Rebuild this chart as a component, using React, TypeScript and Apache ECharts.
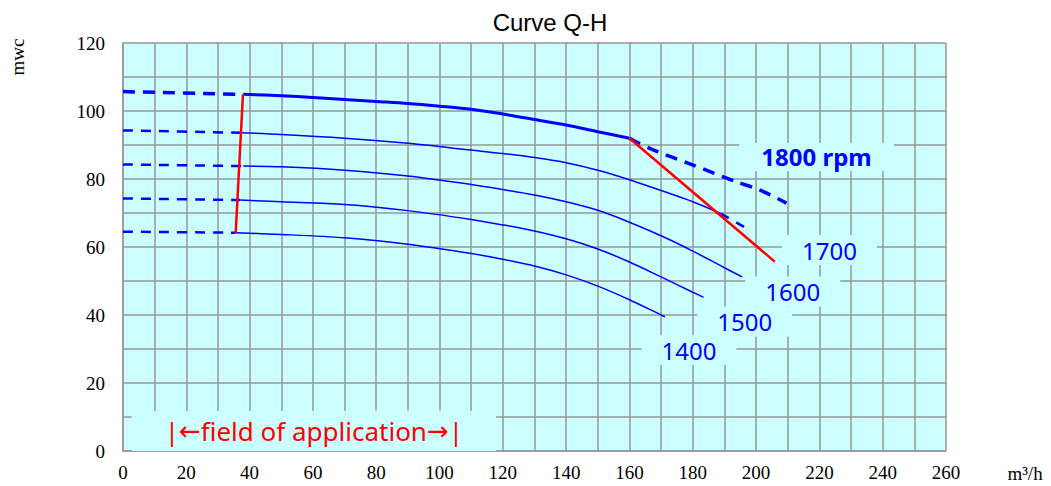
import React, { useEffect, useRef } from 'react';
import * as echarts from 'echarts';

// ---- data (Q in m³/h, H in mwc) ----
const q1800 = [38, 50, 60, 70, 80, 90, 100, 110, 120, 130, 140, 150, 160];
const h1800 = [104.9, 104.5, 104.0, 103.4, 102.8, 102.2, 101.4, 100.5, 99.1, 97.5, 95.9, 93.9, 92.0];
const q1800Ext = [160, 166.4, 180.1, 193.7, 201.1, 209.6];
const h1800Ext = [92.0, 89.0, 84.1, 79.2, 76.8, 72.9];
const q1800Low = [0, 38];
const h1800Low = [105.7, 104.9];

const q1700 = [37, 50, 70, 90, 110, 120, 130, 140, 150, 160, 170, 180, 188.7];
const h1700 = [93.6, 93.1, 92.0, 90.5, 88.5, 87.5, 86.3, 84.8, 82.6, 79.8, 76.6, 73.3, 69.9];
const q1700Ext = [188.7, 196.2];
const h1700Ext = [69.9, 65.9];
const q1700Low = [0, 37];
const h1700Low = [94.3, 93.6];

const q1600 = [38, 50, 70, 90, 110, 120, 130, 140, 150, 160, 170, 180, 190, 195.6];
const h1600 = [83.8, 83.6, 82.6, 80.9, 78.4, 76.9, 75.3, 73.3, 70.8, 67.3, 63.3, 58.8, 53.9, 51.2];
const q1600Low = [0, 38];
const h1600Low = [84.3, 83.8];

const q1500 = [37, 50, 70, 90, 110, 120, 130, 140, 150, 160, 170, 180, 183.4];
const h1500 = [73.8, 73.3, 72.5, 70.7, 68.1, 66.5, 64.7, 62.4, 59.4, 55.6, 51.2, 46.7, 45.2];
const q1500Low = [0, 37];
const h1500Low = [74.3, 73.8];

const q1400 = [35.6, 50, 70, 90, 110, 120, 130, 140, 150, 160, 170, 171.2];
const h1400 = [64.2, 63.7, 62.7, 60.8, 58.1, 56.4, 54.4, 51.8, 48.5, 44.5, 40.0, 39.5];
const q1400Low = [0, 35.6];
const h1400Low = [64.5, 64.2];

const qLimitLeft = [37.9, 35.6];
const hLimitLeft = [104.9, 64.2];
const qLimitRight = [160, 205.9];
const hLimitRight = [92.0, 55.7];

const rpmLabels = ['1700', '1600', '1500', '1400'];
const rpmLabelQ = [223.2, 211.6, 196.4, 178.8];
const rpmLabelH = [59.1, 46.9, 38.0, 29.7];
const mainLabel = '1800 rpm';
const mainLabelQ = 219.1;
const mainLabelH = 86.5;
const fieldLabel = '|{a|\u2190}field of application{a|\u2192}|';
const fieldLabelQ = 60.3;
const fieldLabelH = 5.9;

const titleText = 'Curve Q-H';
const yName = 'mwc';
const xName = 'm\u00b3/h';

const zip = (q: number[], h: number[]) => q.map((v, i) => [v, h[i]]);

const BLUE = '#0000ff';
const RED = '#ff0000';
const GRID = '#979797';

export default function App() {
  const ref = useRef<HTMLDivElement>(null);
  useEffect(() => {
    if (!ref.current) return;
    const chart = echarts.init(ref.current, undefined, { renderer: 'svg' });
    const solid = (name: string, q: number[], h: number[], width: number) => ({
      name, type: 'line', data: zip(q, h), smooth: 0.3, showSymbol: false, silent: true,
      lineStyle: { color: BLUE, width },
    });
    const dashed = (name: string, q: number[], h: number[], width: number, dash: number[]) => ({
      name, type: 'line', data: zip(q, h), smooth: 0.3, showSymbol: false, silent: true,
      lineStyle: { color: BLUE, width, type: dash },
    });
    const red = (name: string, q: number[], h: number[]) => ({
      name, type: 'line', data: zip(q, h), showSymbol: false, silent: true, z: 4,
      lineStyle: { color: RED, width: 2.5 },
    });
    const axisLabel = {
      color: '#000', fontFamily: 'Liberation Serif', fontSize: 19,
      formatter: (v: number) => (v % 20 === 0 ? String(v) : ''),
    };
    const labelBase = {
      show: true, position: 'inside', opacity: 1, textBorderWidth: 0, textBorderColor: 'transparent', backgroundColor: '#ccffff',
    };
    chart.setOption({
      animation: false,
      backgroundColor: '#ffffff',
      grid: { left: 123, right: 105, top: 43, bottom: 35, show: true, backgroundColor: '#ccffff', borderWidth: 0 },
      xAxis: {
        type: 'value', min: 0, max: 260, interval: 10,
        axisLine: { show: true, lineStyle: { color: GRID, width: 1.5 } },
        axisTick: { show: false },
        splitLine: { show: true, lineStyle: { color: GRID, width: 1.5 } },
        axisLabel: { ...axisLabel, margin: 12 },
      },
      yAxis: {
        type: 'value', min: 0, max: 120, interval: 10,
        axisLine: { show: true, lineStyle: { color: GRID, width: 1.5 } },
        axisTick: { show: false },
        splitLine: { show: true, lineStyle: { color: GRID, width: 1.5 } },
        axisLabel: { ...axisLabel, margin: 18 },
      },
      graphic: [
        {
          type: 'text', x: 550, y: 22,
          style: { text: titleText, fill: '#000', font: '24px "Liberation Sans"', align: 'center', verticalAlign: 'middle' },
        },
        {
          type: 'text', x: 17, y: 57, rotation: Math.PI / 2,
          style: { text: yName, fill: '#000', font: '19px "Liberation Serif"', align: 'center', verticalAlign: 'middle' },
        },
        {
          type: 'text', x: 1025, y: 473,
          style: { text: xName, fill: '#000', font: '19px "Liberation Serif"', align: 'center', verticalAlign: 'middle' },
        },
      ],
      series: [
        solid('1800', q1800, h1800, 3),
        dashed('1800 ext', q1800Ext, h1800Ext, 3.5, [12, 8]),
        dashed('1800 low', q1800Low, h1800Low, 3.5, [12, 8]),
        solid('1700', q1700, h1700, 1.5),
        dashed('1700 ext', q1700Ext, h1700Ext, 2.5, [10, 8]),
        dashed('1700 low', q1700Low, h1700Low, 2.5, [10, 8]),
        solid('1600', q1600, h1600, 1.5),
        dashed('1600 low', q1600Low, h1600Low, 2.5, [10, 8]),
        solid('1500', q1500, h1500, 1.5),
        dashed('1500 low', q1500Low, h1500Low, 2.5, [10, 8]),
        solid('1400', q1400, h1400, 1.5),
        dashed('1400 low', q1400Low, h1400Low, 2.5, [10, 8]),
        red('limit left', qLimitLeft, hLimitLeft),
        red('limit right', qLimitRight, hLimitRight),
        {
          type: 'scatter', silent: true, symbolSize: 0, z: 6, itemStyle: { color: BLUE, opacity: 1 },
          data: rpmLabelQ.map((q, i) => ({ value: [q, rpmLabelH[i]], label: { formatter: rpmLabels[i] } })),
          label: { ...labelBase, color: BLUE, fontFamily: 'Noto Sans', fontSize: 24, padding: [3, 20] },
        },
        {
          type: 'scatter', silent: true, symbolSize: 0, z: 6, itemStyle: { color: BLUE, opacity: 1 },
          data: [{ value: [mainLabelQ, mainLabelH], label: { formatter: mainLabel } }],
          label: { ...labelBase, color: BLUE, fontFamily: 'Noto Sans', fontWeight: 'bold', fontSize: 24, padding: [2, 22] },
        },
        {
          type: 'scatter', silent: true, symbolSize: 0, z: 6, itemStyle: { color: RED, opacity: 1 },
          data: [{ value: [fieldLabelQ, fieldLabelH], label: { formatter: fieldLabel } }],
          label: {
            ...labelBase, color: RED, fontFamily: 'Noto Sans', fontSize: 26, lineHeight: 30, padding: [5, 33],
            rich: { a: { color: RED, fontFamily: 'DejaVu Sans', fontSize: 26, lineHeight: 30 } },
          },
        },
      ],
    });
    return () => chart.dispose();
  }, []);
  return <div ref={ref} style={{ position: 'fixed', left: 0, top: 0, width: 1051, height: 486 }} />;
}
